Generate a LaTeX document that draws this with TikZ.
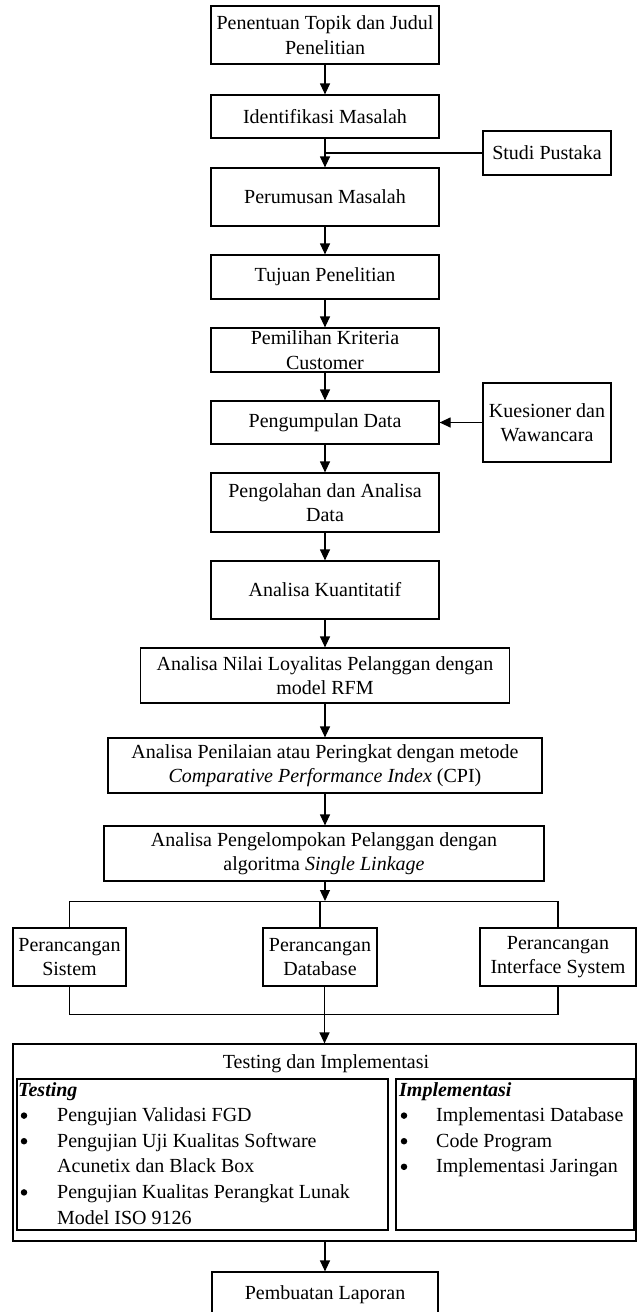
\documentclass[tikz,border=0pt]{standalone}
\usepackage{fontspec}
\setmainfont{Liberation Serif}
\usetikzlibrary{arrows.meta}
\begin{document}
\begin{tikzpicture}[x=1pt,y=-1pt,
  box/.style={draw, line width=1.2pt, inner sep=0pt, align=center,
    font=\fontsize{20}{24.5}\selectfont},
  frame/.style={draw, line width=1.2pt, inner sep=0pt},
  flow/.style={line width=1.2pt, -{Triangle[width=10pt,length=11pt]}},
  link/.style={line width=1.2pt},
  item/.style={inner sep=0pt, anchor=base west, font=\fontsize{20}{24.5}\selectfont},
  caption/.style={inner sep=0pt, anchor=base, font=\fontsize{20}{24.5}\selectfont},
  dot/.style={circle, fill, inner sep=0pt, minimum size=6.5pt}]
\useasboundingbox (0,0) rectangle (637,1312);
\clip (0,0) rectangle (637,1312);

% main chain
\node[box, minimum width=228pt, minimum height=58pt] (b1) at (325,35) {Penentuan Topik dan Judul\\Penelitian};
\node[box, minimum width=228pt, minimum height=43pt] (b2) at (325,116.5) {Identifikasi Masalah};
\node[box, minimum width=128pt, minimum height=44pt] (studi) at (547,153) {Studi Pustaka};
\node[box, minimum width=228pt, minimum height=58pt] (b3) at (325,197) {Perumusan Masalah};
\node[box, minimum width=228pt, minimum height=44pt] (b4) at (325,277) {Tujuan Penelitian};
\node[box, minimum width=228pt, minimum height=44pt] (b5) at (325,350) {Pemilihan Kriteria\\Customer};
\node[box, minimum width=228pt, minimum height=43pt] (b6) at (325,422.5) {Pengumpulan Data};
\node[box, minimum width=128pt, minimum height=79pt] (kues) at (547,422.5) {Kuesioner dan\\Wawancara};
\node[box, minimum width=228pt, minimum height=59pt] (b7) at (325,502.5) {Pengolahan dan Analisa\\Data};
\node[box, minimum width=228pt, minimum height=58pt] (b8) at (325,590) {Analisa Kuantitatif};
\node[box, minimum width=369pt, minimum height=55pt] (b9) at (325,675.5) {Analisa Nilai Loyalitas Pelanggan dengan\\model RFM};
\node[box, minimum width=434pt, minimum height=55pt] (b10) at (325,765.5) {Analisa Penilaian atau Peringkat dengan metode\\\textit{Comparative Performance Index} (CPI)};
\node[box, minimum width=440pt, minimum height=55pt] (b11) at (324,853.5) {Analisa Pengelompokan Pelanggan dengan\\algoritma \textit{Single Linkage}};

% design branches
\node[box, minimum width=113pt, minimum height=58pt] (p1) at (69.5,957) {Perancangan\\Sistem};
\node[box, minimum width=114pt, minimum height=58pt] (p2) at (320,957) {Perancangan\\Database};
\node[box, minimum width=156pt, minimum height=58pt] (p3) at (558,957) {Perancangan\\Interface System};

% testing and implementation block
\node[frame, minimum width=623pt, minimum height=197pt] (outer) at (324.5,1142.5) {};
\node[caption] (ttl) at (326,1068) {Testing dan Implementasi};
\node[frame, minimum width=371pt, minimum height=151pt] (tbox) at (202.5,1154.5) {};
\node[frame, minimum width=238pt, minimum height=151pt] (ibox) at (515,1154.5) {};

\node[item] (th) at (18,1096) {\textbf{\textit{Testing}}};
\node[dot] (tb1) at (24,1115.6) {};
\node[item] (tt1) at (57,1121.6) {Pengujian Validasi FGD};
\node[dot] (tb2) at (24,1141.2) {};
\node[item] (tt2) at (57,1147.2) {Pengujian Uji Kualitas Software};
\node[item] (tt3) at (57,1172.8) {Acunetix dan Black Box};
\node[dot] (tb3) at (24,1192.4) {};
\node[item] (tt4) at (57,1198.4) {Pengujian Kualitas Perangkat Lunak};
\node[item] (tt5) at (57,1224) {Model ISO 9126};

\node[item] (ih) at (399,1096) {\textbf{\textit{Implementasi}}};
\node[dot] (ib1) at (404,1115.6) {};
\node[item] (it1) at (436,1121.6) {Implementasi Database};
\node[dot] (ib2) at (404,1141.2) {};
\node[item] (it2) at (436,1147.2) {Code Program};
\node[dot] (ib3) at (404,1166.8) {};
\node[item] (it3) at (436,1172.8) {Implementasi Jaringan};

\node[box, minimum width=226pt, minimum height=46pt] (lap) at (325,1295) {Pembuatan Laporan};

% connectors
\draw[flow] (b1) -- (b2);
\draw[flow] (b2) -- (b3);
\draw[link] (studi.west) -- (studi.west -| b2.south);
\draw[flow] (b3) -- (b4);
\draw[flow] (b4) -- (b5);
\draw[flow] (b5) -- (b6);
\draw[flow] (kues.west) -- (b6.east);
\draw[flow] (b6) -- (b7);
\draw[flow] (b7) -- (b8);
\draw[flow] (b8) -- (b9);
\draw[flow] (b9) -- (b10);
\draw[flow] (b10.south) -- (b10.south |- b11.north);

\coordinate (bus) at (325,901);
\draw[flow] (b11.south -| bus) -- (bus);
\draw[link] (p1.north) -- ++(0,-26) -| (p3.north);
\draw[link] (p2.north) -- ++(0,-26);
\draw[link] (p1.south) -- ++(0,28) -| (p3.south);
\draw[flow] (p2.south -| outer.north) -- (outer.north);
\draw[flow] (outer.south -| lap.north) -- (lap.north);
\end{tikzpicture}
\end{document}
